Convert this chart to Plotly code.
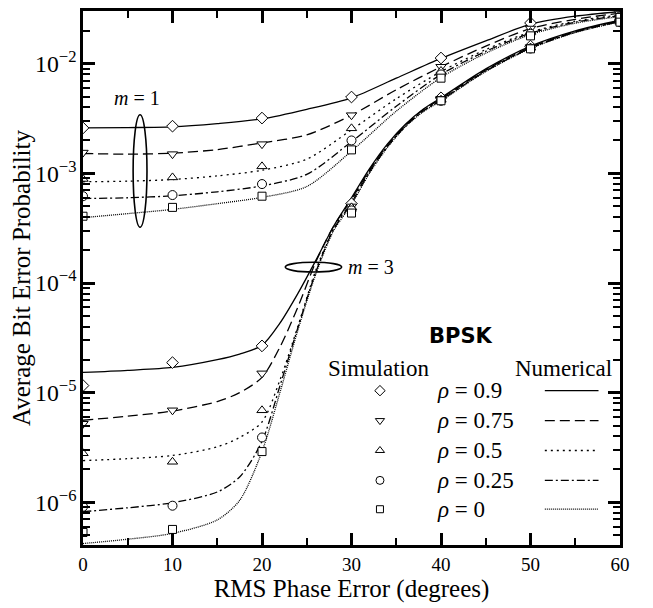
import plotly.graph_objects as go

# ---------------- data ----------------
rho_labels = ["0.9", "0.75", "0.5", "0.25", "0"]
symbols = ["diamond", "triangle-down", "triangle-up", "circle", "square"]
dashes = ["solid", "10px,5px", "2px,4px", "8px,3px,2px,3px", "1px,1px"]

# simulation points (RMS phase error, degrees)
sim_x = [0, 10, 20, 30, 40, 50, 60]
sim_m1 = {
    "0.9":  [2.6e-3, 2.7e-3, 3.2e-3, 4.98e-3, 1.13e-2, 2.36e-2, 3.0e-2],
    "0.75": [1.55e-3, 1.5e-3, 1.85e-3, 3.4e-3, 9.4e-3, 2.1e-2, 2.85e-2],
    "0.5":  [8.9e-4, 9.2e-4, 1.16e-3, 2.58e-3, 8.6e-3, 1.95e-2, 2.75e-2],
    "0.25": [6.2e-4, 6.35e-4, 8.0e-4, 2.0e-3, 8.0e-3, 1.88e-2, 2.7e-2],
    "0":    [4.07e-4, 4.9e-4, 6.2e-4, 1.64e-3, 7.4e-3, 1.8e-2, 2.65e-2],
}
sim_m3 = {
    "0.9":  [1.16e-5, 1.88e-5, 2.67e-5, 5.3e-4, 4.9e-3, 1.45e-2, 2.5e-2],
    "0.75": [5.2e-6, 6.9e-6, 1.5e-5, 5.0e-4, 4.8e-3, 1.42e-2, 2.45e-2],
    "0.5":  [2.8e-6, 2.34e-6, 6.9e-6, 4.9e-4, 4.7e-3, 1.4e-2, 2.42e-2],
    "0.25": [9.1e-7, 9.3e-7, 3.9e-6, 4.6e-4, 4.6e-3, 1.38e-2, 2.4e-2],
    "0":    [5.3e-7, 5.65e-7, 2.9e-6, 4.35e-4, 4.6e-3, 1.37e-2, 2.4e-2],
}

# numerical curves
num_x_m1 = [0, 5, 10, 15, 20, 25, 30, 35, 40, 45, 50, 55, 60]
num_m1 = {
    "0.9":  [2.6e-3, 2.62e-3, 2.66e-3, 2.85e-3, 3.15e-3, 3.85e-3, 4.9e-3, 7.4e-3, 1.12e-2, 1.62e-2, 2.3e-2, 2.72e-2, 3.0e-2],
    "0.75": [1.52e-3, 1.5e-3, 1.53e-3, 1.65e-3, 1.9e-3, 2.25e-3, 3.4e-3, 5.8e-3, 9.4e-3, 1.45e-2, 2.1e-2, 2.55e-2, 2.9e-2],
    "0.5":  [8.4e-4, 8.5e-4, 8.8e-4, 9.5e-4, 1.07e-3, 1.35e-3, 2.5e-3, 4.8e-3, 8.5e-3, 1.35e-2, 1.95e-2, 2.45e-2, 2.8e-2],
    "0.25": [5.9e-4, 6.0e-4, 6.25e-4, 6.8e-4, 7.7e-4, 9.8e-4, 1.95e-3, 4.1e-3, 8.0e-3, 1.3e-2, 1.9e-2, 2.4e-2, 2.75e-2],
    "0":    [3.95e-4, 4.3e-4, 4.7e-4, 5.3e-4, 6.05e-4, 7.6e-4, 1.6e-3, 3.7e-3, 7.5e-3, 1.25e-2, 1.85e-2, 2.35e-2, 2.7e-2],
}
num_x_m3 = [0, 5, 10, 15, 17.5, 20, 22, 24, 26, 28, 30, 32, 34, 36, 38, 40, 45, 50, 55, 60]
num_m3 = {
    "0.9":  [1.53e-5, 1.6e-5, 1.7e-5, 2.0e-5, 2.25e-5, 2.7e-5, 4.3e-5, 8.0e-5, 1.6e-4, 3.3e-4, 6.0e-4, 1.1e-3, 1.85e-3, 2.8e-3, 3.85e-3, 4.9e-3, 9.0e-3, 1.45e-2, 2.0e-2, 2.5e-2],
    "0.75": [5.6e-6, 6.1e-6, 6.8e-6, 8.3e-6, 1.0e-5, 1.38e-5, 2.6e-5, 6.0e-5, 1.55e-4, 3.3e-4, 5.8e-4, 1.07e-3, 1.8e-3, 2.75e-3, 3.8e-3, 4.8e-3, 8.8e-3, 1.42e-2, 1.97e-2, 2.47e-2],
    "0.5":  [2.4e-6, 2.5e-6, 2.67e-6, 3.2e-6, 3.9e-6, 5.4e-6, 1.3e-5, 4.0e-5, 1.3e-4, 3.15e-4, 5.6e-4, 1.05e-3, 1.77e-3, 2.7e-3, 3.75e-3, 4.7e-3, 8.7e-3, 1.4e-2, 1.95e-2, 2.45e-2],
    "0.25": [8.2e-7, 8.9e-7, 9.9e-7, 1.24e-6, 1.7e-6, 3.6e-6, 1.15e-5, 3.9e-5, 1.25e-4, 3.1e-4, 5.4e-4, 1.03e-3, 1.75e-3, 2.68e-3, 3.7e-3, 4.65e-3, 8.6e-3, 1.39e-2, 1.94e-2, 2.43e-2],
    "0":    [4.2e-7, 4.6e-7, 5.2e-7, 6.9e-7, 1.04e-6, 2.9e-6, 1.0e-5, 3.7e-5, 1.2e-4, 3.0e-4, 5.2e-4, 1.0e-3, 1.72e-3, 2.65e-3, 3.65e-3, 4.6e-3, 8.5e-3, 1.38e-2, 1.93e-2, 2.42e-2],
}

x_ticks = [0, 10, 20, 30, 40, 50, 60]

FONT = "Liberation Serif"
fig = go.Figure()

# numerical lines
for i, r in enumerate(rho_labels):
    for xs, d in ((num_x_m1, num_m1), (num_x_m3, num_m3)):
        fig.add_trace(go.Scatter(
            x=xs, y=d[r], mode="lines", line_shape="spline",
            line=dict(color="black", width=1.3, dash=dashes[i], smoothing=0.8),
            showlegend=False, hoverinfo="skip"))

# simulation markers
for i, r in enumerate(rho_labels):
    for d in (sim_m1, sim_m3):
        fig.add_trace(go.Scatter(
            x=sim_x, y=d[r], mode="markers",
            marker=dict(symbol=symbols[i], size=9 if symbols[i] != "square" else 8,
                        color="white", line=dict(color="black", width=1)),
            showlegend=False))

# custom legend on overlay axes (0..1 fractions of plot area)
row_y = [0.289, 0.233, 0.177, 0.121, 0.067]
for i, r in enumerate(rho_labels):
    fig.add_trace(go.Scatter(
        x=[0.553], y=[row_y[i]], mode="markers", xaxis="x2", yaxis="y2",
        marker=dict(symbol=symbols[i], size=8 if symbols[i] != "square" else 7,
                    color="white", line=dict(color="black", width=1)),
        showlegend=False, hoverinfo="skip"))
    fig.add_trace(go.Scatter(
        x=[0.86, 0.96], y=[row_y[i], row_y[i]], mode="lines", xaxis="x2", yaxis="y2",
        line=dict(color="black", width=1.3, dash=dashes[i]),
        showlegend=False, hoverinfo="skip"))
    fig.add_annotation(x=0.655, y=row_y[i], xref="paper", yref="paper",
                       text="<i>ρ</i> = " + r, showarrow=False,
                       xanchor="left", yanchor="middle",
                       font=dict(family=FONT, size=23, color="black"))

fig.add_annotation(x=0.551, y=0.331, xref="paper", yref="paper", text="Simulation",
                   showarrow=False, xanchor="center", yanchor="middle",
                   font=dict(family=FONT, size=23, color="black"))
fig.add_annotation(x=0.894, y=0.331, xref="paper", yref="paper", text="Numerical",
                   showarrow=False, xanchor="center", yanchor="middle",
                   font=dict(family=FONT, size=23, color="black"))
fig.add_annotation(x=0.704, y=0.391, xref="paper", yref="paper", text="<b>BPSK</b>",
                   showarrow=False, xanchor="center", yanchor="middle",
                   font=dict(family="DejaVu Sans", size=21, color="black"))

# m labels and ellipses
fig.add_annotation(x=6.0, y=-2.31, xref="x", yref="y", text="<i>m</i> = 1",
                   showarrow=False, font=dict(family=FONT, size=20, color="black"))
fig.add_annotation(x=32.2, y=-3.85, xref="x", yref="y", text="<i>m</i> = 3",
                   showarrow=False, font=dict(family=FONT, size=20, color="black"))
fig.add_shape(type="circle", xref="x", yref="y", x0=5.6, x1=7.15, y0=3.23e-4, y1=3.43e-3,
              line=dict(color="black", width=1.6))
fig.add_shape(type="circle", xref="x", yref="y", x0=22.6, x1=28.9, y0=1.26e-4, y1=1.55e-4,
              line=dict(color="black", width=1.6))

axis_common = dict(showline=True, linecolor="black", linewidth=2.5, mirror="ticks",
                   ticks="inside", ticklen=12, tickwidth=2.5, tickcolor="black",
                   showgrid=False, zeroline=False,
                   tickfont=dict(family=FONT, size=19, color="black"))

fig.update_layout(
    width=645, height=600,
    margin=dict(l=75, r=33, t=0, b=63),
    plot_bgcolor="white", paper_bgcolor="white",
    xaxis=dict(range=[0, 60], tickvals=x_ticks,
               minor=dict(ticks="inside", ticklen=7, tickwidth=2, dtick=5, tickcolor="black", showgrid=False),
               title=dict(text="RMS Phase Error (degrees)", standoff=6,
                          font=dict(family=FONT, size=25, color="black")),
               **axis_common),
    yaxis=dict(type="log", range=[-6.39, -1.518], dtick=1, exponentformat="power",
               minor=dict(ticks="inside", ticklen=7, tickwidth=2, dtick="D1", tickcolor="black", showgrid=False),
               title=dict(text="Average Bit Error Probability", standoff=8,
                          font=dict(family=FONT, size=25, color="black")),
               **axis_common),
    xaxis2=dict(overlaying="x", range=[0, 1], visible=False),
    yaxis2=dict(overlaying="y", range=[0, 1], visible=False),
    showlegend=False,
)

fig.write_html("out.html")
